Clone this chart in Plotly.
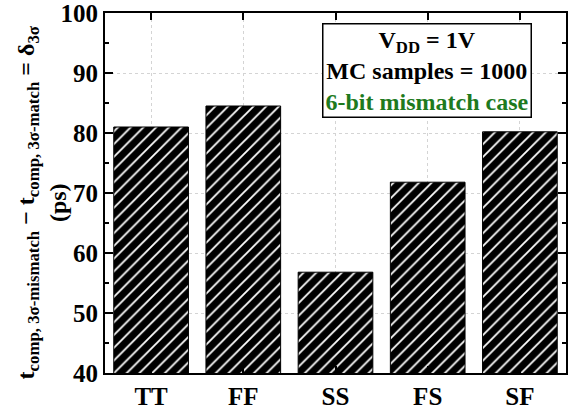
import plotly.graph_objects as go

corners = ["TT", "FF", "SS", "FS", "SF"]
delta_ps = [81.0, 84.5, 56.8, 71.8, 80.2]
y_ticks = [40, 50, 60, 70, 80, 90, 100]
y_title = ("t<sub>comp, 3σ-mismatch</sub> − t<sub>comp, 3σ-match</sub> = δ<sub>3σ</sub>"
           "<br>(ps)")

FONT = "Liberation Serif"

fig = go.Figure()
fig.add_trace(go.Bar(
    x=corners,
    y=delta_ps,
    base=0,
    width=0.81,
    marker=dict(
        color="black",
        line=dict(color="black", width=1),
        pattern=dict(shape="/", bgcolor="black", fgcolor="white", fgopacity=1,
                     size=9, solidity=0.2, fillmode="overlay"),
    ),
    showlegend=False,
))

axis_common = dict(
    showline=True, linecolor="black", linewidth=2, mirror="ticks",
    ticks="inside", tickcolor="black", tickwidth=2,
    tickfont=dict(family=FONT, size=25, color="black", weight="bold"),
    ticklabeloverflow="allow", automargin=False,
    showgrid=True, gridcolor="#d4d4d4", griddash="dot", gridwidth=1,
    zeroline=False,
)

fig.update_xaxes(
    **axis_common,
    range=[-0.5, 4.5], ticklen=7,
)
fig.update_yaxes(
    **axis_common,
    range=[40, 100], tickvals=y_ticks, ticklen=8,
    minor=dict(dtick=5, ticks="inside", ticklen=4, tickcolor="black",
               tickwidth=2, showgrid=False),
)

# rotated y-axis title placed as an annotation so it sits close to the tick labels
fig.add_annotation(
    xref="paper", yref="paper", x=-0.138, y=0.475,
    xanchor="center", yanchor="middle", textangle=-90,
    text=y_title, showarrow=False, align="center",
    font=dict(family=FONT, size=24, color="black", weight="bold"),
)

fig.add_annotation(
    xref="paper", yref="paper", x=0.698, y=0.84,
    xanchor="center", yanchor="middle",
    text=("V<sub>DD</sub> = 1V<br>MC samples = 1000<br>"
          "<span style='color:#1e7a1e'>6-bit mismatch case</span>"),
    showarrow=False, align="center",
    font=dict(family=FONT, size=24, color="black", weight="bold"),
    bordercolor="black", borderwidth=1.5, borderpad=2, bgcolor="white",
)

fig.update_layout(
    width=574, height=409,
    margin=dict(l=105, r=8, t=13, b=36),
    plot_bgcolor="white", paper_bgcolor="white",
)

fig.write_html("out.html")
